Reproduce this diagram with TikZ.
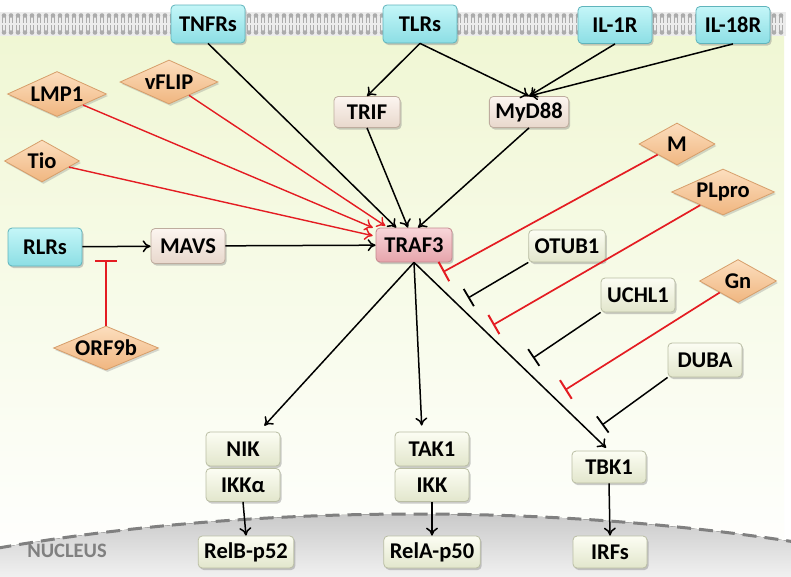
\documentclass[tikz,border=0pt]{standalone}
\usepackage{fontspec}
\setmainfont{Carlito}
\usepackage{tikz}
\usetikzlibrary{arrows.meta,backgrounds,calc,positioning,shapes.geometric,shadows}
\definecolor{cytotop}{RGB}{240,247,212}
\definecolor{memfill}{RGB}{236,236,236}
\definecolor{lipid}{RGB}{172,172,172}
\definecolor{nuctop}{RGB}{196,196,196}
\definecolor{nucbot}{RGB}{240,240,240}
\definecolor{nucline}{RGB}{128,128,128}
\definecolor{cyantop}{RGB}{196,246,248}
\definecolor{cyanbot}{RGB}{140,222,228}
\definecolor{cyanline}{RGB}{96,180,188}
\definecolor{peachtop}{RGB}{252,245,240}
\definecolor{peachbot}{RGB}{232,216,204}
\definecolor{peachline}{RGB}{190,172,158}
\definecolor{pinktop}{RGB}{248,214,217}
\definecolor{pinkbot}{RGB}{230,164,171}
\definecolor{pinkline}{RGB}{196,136,142}
\definecolor{greentop}{RGB}{252,253,243}
\definecolor{greenbot}{RGB}{226,230,204}
\definecolor{greenline}{RGB}{186,190,164}
\definecolor{virtop}{RGB}{252,222,190}
\definecolor{virbot}{RGB}{240,182,128}
\definecolor{virline}{RGB}{214,158,106}
\definecolor{inhred}{RGB}{228,28,34}
\newcommand\labelfont{\bfseries\fontsize{22.5}{23}\selectfont}
\begin{document}
\begin{tikzpicture}[x=1pt,y=-1pt,
  >={To[length=8pt,width=12pt]},
  box/.style={rectangle, rounded corners=4pt, line width=0.8pt, minimum width=74pt, minimum height=34pt, inner xsep=6pt, inner ysep=2pt, font=\labelfont, drop shadow={shadow xshift=1.5pt, shadow yshift=-2pt, opacity=0.4}},
  receptor/.style={box, top color=cyantop, bottom color=cyanbot, draw=cyanline},
  adaptor/.style={box, top color=peachtop, bottom color=peachbot, draw=peachline},
  hub/.style={box, top color=pinktop, bottom color=pinkbot, draw=pinkline},
  effector/.style={box, top color=greentop, bottom color=greenbot, draw=greenline},
  viral/.style={diamond, aspect=2.2, inner sep=0pt, minimum width=#1, minimum height=43pt, font=\labelfont, top color=virtop, bottom color=virbot, draw=virline, line width=0.8pt, drop shadow={shadow xshift=1.5pt, shadow yshift=-2pt, opacity=0.3}},
  act/.style={draw=black, line width=1.5pt, ->},
  vact/.style={draw=inhred, line width=1.4pt, ->, shorten >=3pt},
  inh/.style={draw=black, line width=1.5pt, -{Bar[width=20pt,line width=1.8pt]}},
  vinh/.style={draw=inhred, line width=1.7pt, -{Bar[width=22pt,line width=2pt]}}
]
\useasboundingbox (0,0) rectangle (791,576);
\fill[white] (0,0) rectangle (791,576);
\fill[top color=cytotop, bottom color=white] (0,36) rectangle (784,576);
\fill[memfill] (0,12) rectangle (786,36);
\foreach \i in {0,...,111} {
  \fill[lipid] ({4+7*\i},15.5) circle (2.3pt);
  \fill[lipid] ({4+7*\i},32.5) circle (2.3pt);
  \draw[lipid, line width=0.8pt] ({2.8+7*\i},17) -- ({2.8+7*\i},23) ({5.2+7*\i},17) -- ({5.2+7*\i},23);
  \draw[lipid, line width=0.8pt] ({2.8+7*\i},25) -- ({2.8+7*\i},31) ({5.2+7*\i},25) -- ({5.2+7*\i},31);
}
\begin{scope}
\clip (415,814) ellipse [x radius=900pt, y radius=300pt];
\fill[top color=nuctop, bottom color=nucbot] (0,505) rectangle (791,576);
\end{scope}
\begin{scope}
\clip (0,0) rectangle (791,576);
\draw[nucline, line width=3pt, dash pattern=on 14pt off 8pt] (415,814) ellipse [x radius=900pt, y radius=300pt];
\end{scope}
\node[text=nucline, font=\bfseries\fontsize{20.5}{21}\selectfont] (nucleus) at (67,551) {NUCLEUS};

\node[receptor, minimum height=38pt] (tnfr) at (208,24) {TNFRs};
\node[receptor, minimum height=38pt] (tlr) at (420,24) {TLRs};
\node[receptor, minimum height=37pt] (ilr) at (615,25) {IL-1R};
\node[receptor, minimum height=37pt] (ilbr) at (733,25) {IL-18R};
\node[adaptor, minimum width=66pt, minimum height=31pt] (trif) at (367,112) {TRIF};
\node[adaptor, minimum height=31pt] (myd) at (529,112) {MyD88};
\node[viral=99pt, minimum height=45pt] (lmp) at (57,94) {LMP1};
\node[viral=98pt, minimum height=44pt] (vflip) at (169,82) {vFLIP};
\node[viral=75pt, minimum height=42pt] (tio) at (42,161) {Tio};
\node[viral=76pt, minimum height=42pt] (mprot) at (677,144) {M};
\node[viral=103pt, minimum height=46pt] (plpro) at (723,192) {PLpro};
\node[viral=77pt, minimum height=43pt] (gn) at (738,281) {Gn};
\node[viral=105pt, minimum height=41pt] (orf) at (106,348) {ORF9b};
\node[receptor, minimum height=38pt] (rlr) at (45,247) {RLRs};
\node[adaptor, minimum height=35pt] (mavs) at (188,246) {MAVS};
\node[hub, minimum width=76pt] (traf) at (414,245) {TRAF3};
\node[effector, minimum height=32pt] (otub) at (567,246) {OTUB1};
\node[effector] (uchl) at (638,295) {UCHL1};
\node[effector] (duba) at (705,360) {DUBA};
\node[effector] (nik) at (243,449) {NIK};
\node[effector, minimum height=33pt] (ikka) at (243,485) {IKKα};
\node[effector, minimum height=32pt] (relb) at (246,552) {RelB-p52};
\node[effector] (tak) at (432,449) {TAK1};
\node[effector, minimum height=33pt] (ikk) at (432,485) {IKK};
\node[effector, minimum height=32pt] (rela) at (432,552) {RelA-p50};
\node[effector, minimum height=32pt] (tbk) at (609,467) {TBK1};
\node[effector, minimum height=32pt] (irf) at (610,552) {IRFs};

\coordinate (rlrbar) at (106,260);
\coordinate (mbar) at (443,272);
\coordinate (otubbar) at (468,298);
\coordinate (plbar) at (493,325);
\coordinate (ucbar) at (533,358);
\coordinate (gnbar) at (565,390);
\coordinate (dubar) at (602,425);

\draw[act] (tnfr.south) -- (traf);
\draw[act] (tlr.south) -- (trif.north);
\draw[act] (tlr.south) -- (myd.north);
\draw[act] (ilr.south) -- (myd.north);
\draw[act] (ilbr.south) -- (myd.north);
\draw[act] (trif.south) -- ([xshift=-6pt]traf.north);
\draw[act] (myd.south) -- ([xshift=4pt]traf.north);
\draw[vact] (lmp) -- (traf);
\draw[vact] (vflip) -- (traf);
\draw[vact] (tio) -- (traf);
\draw[act] (rlr) -- (mavs);
\draw[act] (mavs) -- (traf);
\draw[vinh] (orf.north) -- (rlrbar);
\draw[vinh] (mprot) -- (mbar);
\draw[inh] (otub.south west) -- (otubbar);
\draw[vinh] (plpro) -- (plbar);
\draw[inh] (uchl.south west) -- (ucbar);
\draw[vinh] (gn) -- (gnbar);
\draw[inh] (duba.south west) -- (dubar);
\draw[act, shorten >=8pt] (traf.south) -- (nik);
\draw[act, shorten >=6pt] (traf.south) -- ([xshift=-10pt]tak.north);
\draw[act, shorten >=4pt] (traf.south) -- (tbk.north);
\draw[act] (ikka.south) -- (relb.north);
\draw[act] (ikk.south) -- (rela.north);
\draw[act] (tbk.south) -- (irf.north);
\end{tikzpicture}
\end{document}
